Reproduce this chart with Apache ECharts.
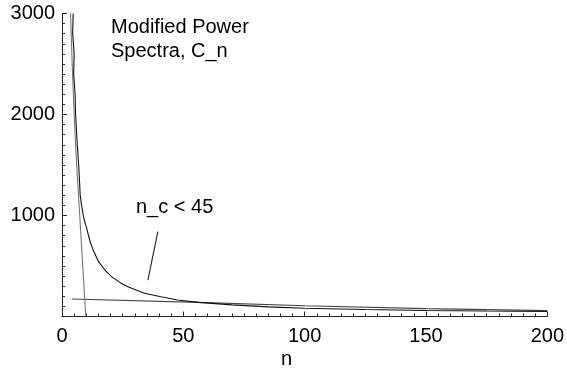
<!DOCTYPE html>
<html>
<head>
<meta charset="utf-8">
<script src="https://cdn.jsdelivr.net/npm/echarts@6/dist/echarts.min.js"></script>
<style>
html,body{margin:0;padding:0;background:#fff;}
#chart{width:567px;height:373px;}
</style>
</head>
<body>
<div id="chart"></div>
<script>
// ---- data ----
const xTickValues = [0, 50, 100, 150, 200];
const yTickLabels = ['', '1000', '2000', '3000'];

// steep gray line
const steepN = [3.5, 4.2, 5.0, 5.8, 6.8, 8.3, 9.8];
const steepV = [3000, 2500, 2000, 1600, 1200, 600, 0];

// black power spectrum curve
const curveN = [4.6, 4.4, 5.0, 4.8, 5.4, 5.6, 6.3, 7.0, 7.5, 8.2, 8.9, 9.6, 10.2, 11.6, 12.8, 15, 17.5, 20.4, 24, 27.2, 30.5, 34, 40.8, 47.6, 56.4, 70, 85, 100, 125, 150, 175, 200];
const curveV = [3000, 2800, 2600, 2400, 2200, 2000, 1700, 1450, 1200, 1080, 985, 920, 870, 740, 660, 545, 465, 395, 335, 295, 262, 230, 196, 163, 140, 115, 95, 82, 70, 60, 54, 50];

// slowly decreasing line
const flatN = [4, 56, 100, 150, 200];
const flatV = [173, 140, 107, 78, 58];

// annotation pointer for "n_c < 45"
const pointerN = [39.5, 35.4];
const pointerV = [840, 361];

const zip = (a, b) => a.map((v, i) => [v, b[i]]);
const FONT = "'Liberation Sans', Arial, sans-serif";

const chart = echarts.init(document.getElementById('chart'), null, {renderer: 'canvas'});
chart.setOption({
  animation: false,
  backgroundColor: '#fff',
  grid: {left: 62, right: 15, top: 13.5, bottom: 56.5, containLabel: false},
  xAxis: {
    type: 'value', min: 0, max: 200, interval: 50,
    axisLine: {show: true, onZero: false, lineStyle: {color: '#222', width: 1}},
    axisTick: {show: true, inside: true, length: 5, lineStyle: {color: '#222'}},
    minorTick: {show: true, splitNumber: 10, length: 3, lineStyle: {color: '#222'}},
    splitLine: {show: false},
    axisLabel: {
      margin: 10, color: '#000', fontFamily: FONT, fontSize: 20,
      formatter: v => xTickValues.indexOf(v) >= 0 ? String(v) : ''
    }
  },
  yAxis: {
    type: 'value', min: 0, max: 3000, interval: 1000,
    axisLine: {show: true, onZero: false, lineStyle: {color: '#222', width: 1}},
    axisTick: {show: true, inside: true, length: 5, lineStyle: {color: '#222'}},
    minorTick: {show: true, splitNumber: 10, length: 3, lineStyle: {color: '#222'}},
    splitLine: {show: false},
    axisLabel: {
      margin: 7, color: '#000', fontFamily: FONT, fontSize: 20,
      formatter: v => yTickLabels[Math.round(v / 1000)] || ''
    }
  },
  series: [
    {type: 'line', data: zip(flatN, flatV), symbol: 'none', lineStyle: {color: '#444', width: 1.1}},
    {type: 'line', data: zip(steepN, steepV), symbol: 'none', lineStyle: {color: '#777', width: 1.1}},
    {type: 'line', data: zip(curveN, curveV), symbol: 'none', smooth: false, lineStyle: {color: '#111', width: 1.1}},
    {type: 'line', data: zip(pointerN, pointerV), symbol: 'none', lineStyle: {color: '#222', width: 1.1}}
  ],
  graphic: [
    {type: 'text', left: 111, top: 16, style: {text: 'Modified Power\nSpectra, C_n', font: '20px ' + FONT, fill: '#000', lineHeight: 23.5}},
    {type: 'text', left: 136, top: 197, style: {text: 'n_c < 45', font: '20px ' + FONT, fill: '#000'}},
    {type: 'text', left: 281, top: 349, style: {text: 'n', font: '20px ' + FONT, fill: '#000'}}
  ]
});
</script>
</body>
</html>
